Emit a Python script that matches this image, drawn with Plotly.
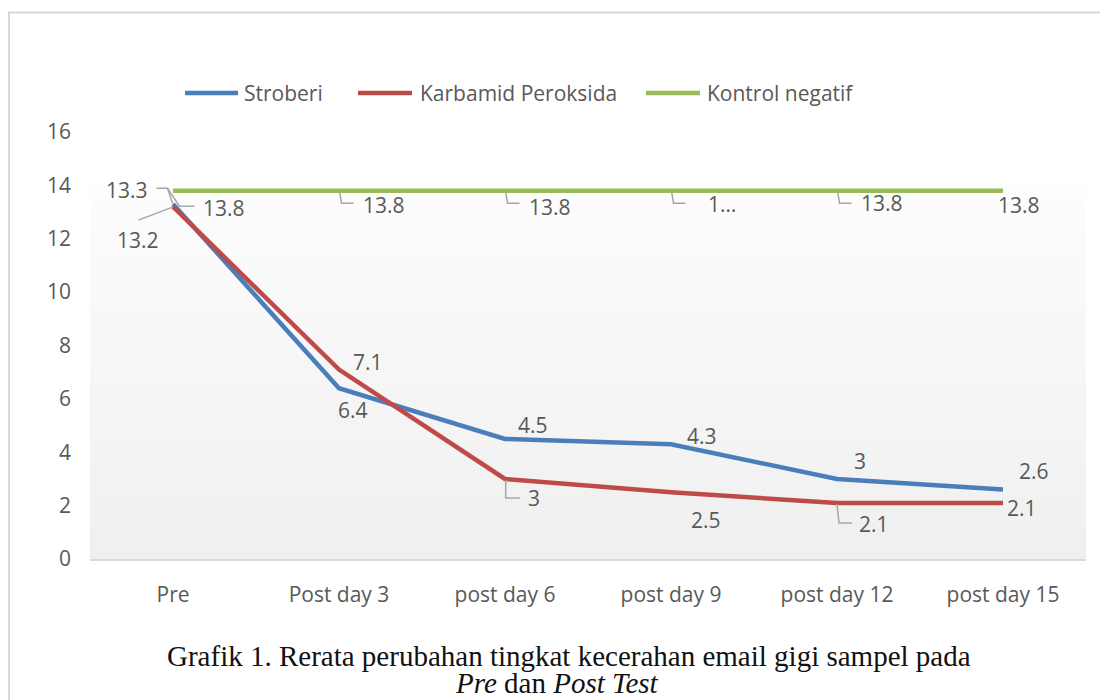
import numpy as np
import plotly.graph_objects as go

# ---------------- data ----------------
categories = ["Pre", "Post day 3", "post day 6", "post day 9", "post day 12", "post day 15"]
stroberi = [13.3, 6.4, 4.5, 4.3, 3, 2.6]
karbamid = [13.2, 7.1, 3, 2.5, 2.1, 2.1]
kontrol = [13.8, 13.8, 13.8, 13.8, 13.8, 13.8]
kontrol_label_text = ["13.8", "13.8", "13.8", "1\u2026", "13.8", "13.8"]
y_ticks = [0, 2, 4, 6, 8, 10, 12, 14, 16]

# ---------------- style ----------------
W, H = 1100, 700
ML, MT = 90, 132
MR = W - 1086
MB = H - 559
PW, PH = W - ML - MR, H - MT - MB
FONT = "Open Sans"
TXT = "#595959"
LEAD = "#a6a6a6"
C_BLUE, C_RED, C_GREEN = "#4a7ebb", "#be4b48", "#9bbb59"

def px_x(px):
    """screen pixel -> paper x"""
    return (px - ML) / PW

def px_y(py):
    """screen pixel -> paper y"""
    return (H - MB - py) / PH

xs = list(range(len(categories)))

fig = go.Figure()

# plot-area gradient background (0..14)
edges = np.linspace(0, 14, 71)
mids = (edges[:-1] + edges[1:]) / 2 / 14
fig.add_trace(go.Heatmap(
    x=[-0.5, 5.5], y=edges, z=[[m] for m in mids],
    colorscale=[[0, "#efefef"], [1, "#fdfdfd"]], zmin=0, zmax=1,
    showscale=False, hoverinfo="skip", zsmooth=False,
))

series = [("Stroberi", stroberi, C_BLUE), ("Karbamid Peroksida", karbamid, C_RED),
          ("Kontrol negatif", kontrol, C_GREEN)]
for name, vals, col in series:
    fig.add_trace(go.Scatter(x=xs, y=vals, mode="lines", name=name,
                             line=dict(color=col, width=4.5), showlegend=False))

annotations = []
shapes = []

def label(i, v, text, dx, dy):
    annotations.append(dict(x=xs[i], y=v, xref="x", yref="y", text=text, showarrow=False,
                            xshift=dx, yshift=-dy, xanchor="center", yanchor="middle",
                            font=dict(family=FONT, size=21, color=TXT)))

def leader(i, v, pts):
    path = "M" + " L".join(f"{px},{-py}" for px, py in pts)
    shapes.append(dict(type="path", xref="x", yref="y", xsizemode="pixel", ysizemode="pixel",
                       xanchor=xs[i], yanchor=v, path=path,
                       line=dict(color=LEAD, width=1.5), layer="above"))

# label offsets (pixels, screen y downward)
s_off = [(-46.5, -14.4), (13.6, 21.4), (27.7, -13.9), (30.8, -8.7), (22.9, -18.4), (31, -18.6)]
k_off = [(-35, 33), (28.6, -7.4), (28.7, 19.1), (34.8, 27.7), (37.4, 20.6), (19, 4.6)]
g_off = [(50.5, 17.5), (44.6, 14), (44.7, 16.5), (50.8, 13.5), (45, 12.5), (16, 14.5)]

for i, v in enumerate(stroberi):
    label(i, v, f"{v:g}", *s_off[i])
for i, v in enumerate(karbamid):
    label(i, v, f"{v:g}", *k_off[i])
for i, v in enumerate(kontrol):
    label(i, v, kontrol_label_text[i], *g_off[i])

# leader lines
leader(0, stroberi[0], [(-16.5, -15.9), (-5.5, -15.9), (-0.5, -0.9)])
leader(0, karbamid[0], [(-34.5, 13.4), (-0.5, 0.4)])
leader(0, kontrol[0], [(-5.5, -2.5), (6.5, 15.5), (21.5, 15.5)])
for i in (1, 2, 3, 4):
    leader(i, kontrol[i], [(0.5, 0.5), (2.5, 12.5), (14.5, 12.5)])
leader(2, karbamid[2], [(0.7, 1.1), (0.7, 19.1), (14.7, 19.1)])
leader(4, karbamid[4], [(0, 1), (2, 20), (15, 20)])

# manual legend
leg_items = [(185, 238, 242), (358, 412, 418), (646, 700, 705)]
LEG_Y = 93
for (x0, x1, xt), (name, _, col) in zip(leg_items, series):
    shapes.append(dict(type="line", xref="paper", yref="paper",
                       x0=px_x(x0), x1=px_x(x1), y0=px_y(LEG_Y), y1=px_y(LEG_Y),
                       line=dict(color=col, width=4.5)))
    annotations.append(dict(x=px_x(xt), y=px_y(LEG_Y), xref="paper", yref="paper",
                            text=name, showarrow=False, xanchor="left", yanchor="middle",
                            font=dict(family=FONT, size=21, color=TXT)))

# outer chart frame (only left and top edges are visible in the picture)
frame_line = dict(color="#d9d9d9", width=2)
shapes.append(dict(type="line", xref="paper", yref="paper",
                   x0=px_x(9), x1=px_x(9), y0=px_y(11.5), y1=px_y(720),
                   line=frame_line, layer="below"))
shapes.append(dict(type="line", xref="paper", yref="paper",
                   x0=px_x(8), x1=px_x(1120), y0=px_y(12.5), y1=px_y(12.5),
                   line=frame_line, layer="below"))

# caption
annotations.append(dict(x=px_x(569), y=px_y(656), xref="paper", yref="paper",
                        text="Grafik 1. Rerata perubahan tingkat kecerahan email gigi sampel pada",
                        showarrow=False, xanchor="center", yanchor="middle",
                        font=dict(family="Liberation Serif", size=29, color="#111111")))
annotations.append(dict(x=px_x(557), y=px_y(683), xref="paper", yref="paper",
                        text="<i>Pre</i> dan <i>Post Test</i>",
                        showarrow=False, xanchor="center", yanchor="middle",
                        font=dict(family="Liberation Serif", size=29, color="#111111")))

fig.update_layout(
    width=W, height=H,
    margin=dict(l=ML, r=MR, t=MT, b=MB, pad=0),
    paper_bgcolor="white", plot_bgcolor="white",
    showlegend=False,
    shapes=shapes, annotations=annotations,
    font=dict(family=FONT, size=21, color=TXT),
)
fig.update_xaxes(range=[-0.5, 5.5], tickvals=xs, ticktext=categories, showgrid=False,
                 zeroline=False, showline=True, linecolor="#d9d9d9", linewidth=2,
                 ticks="", ticklabelstandoff=16,
                 tickfont=dict(family=FONT, size=21, color=TXT))
fig.update_yaxes(range=[0, 16], tickvals=y_ticks, showgrid=False, zeroline=False,
                 showline=False, ticks="", ticklabelstandoff=18,
                 tickfont=dict(family=FONT, size=21, color=TXT))

fig.write_html(
    "out.html",
    config={"displayModeBar": False},
    post_script="document.body.style.margin='0';document.body.style.overflow='hidden';",
)
